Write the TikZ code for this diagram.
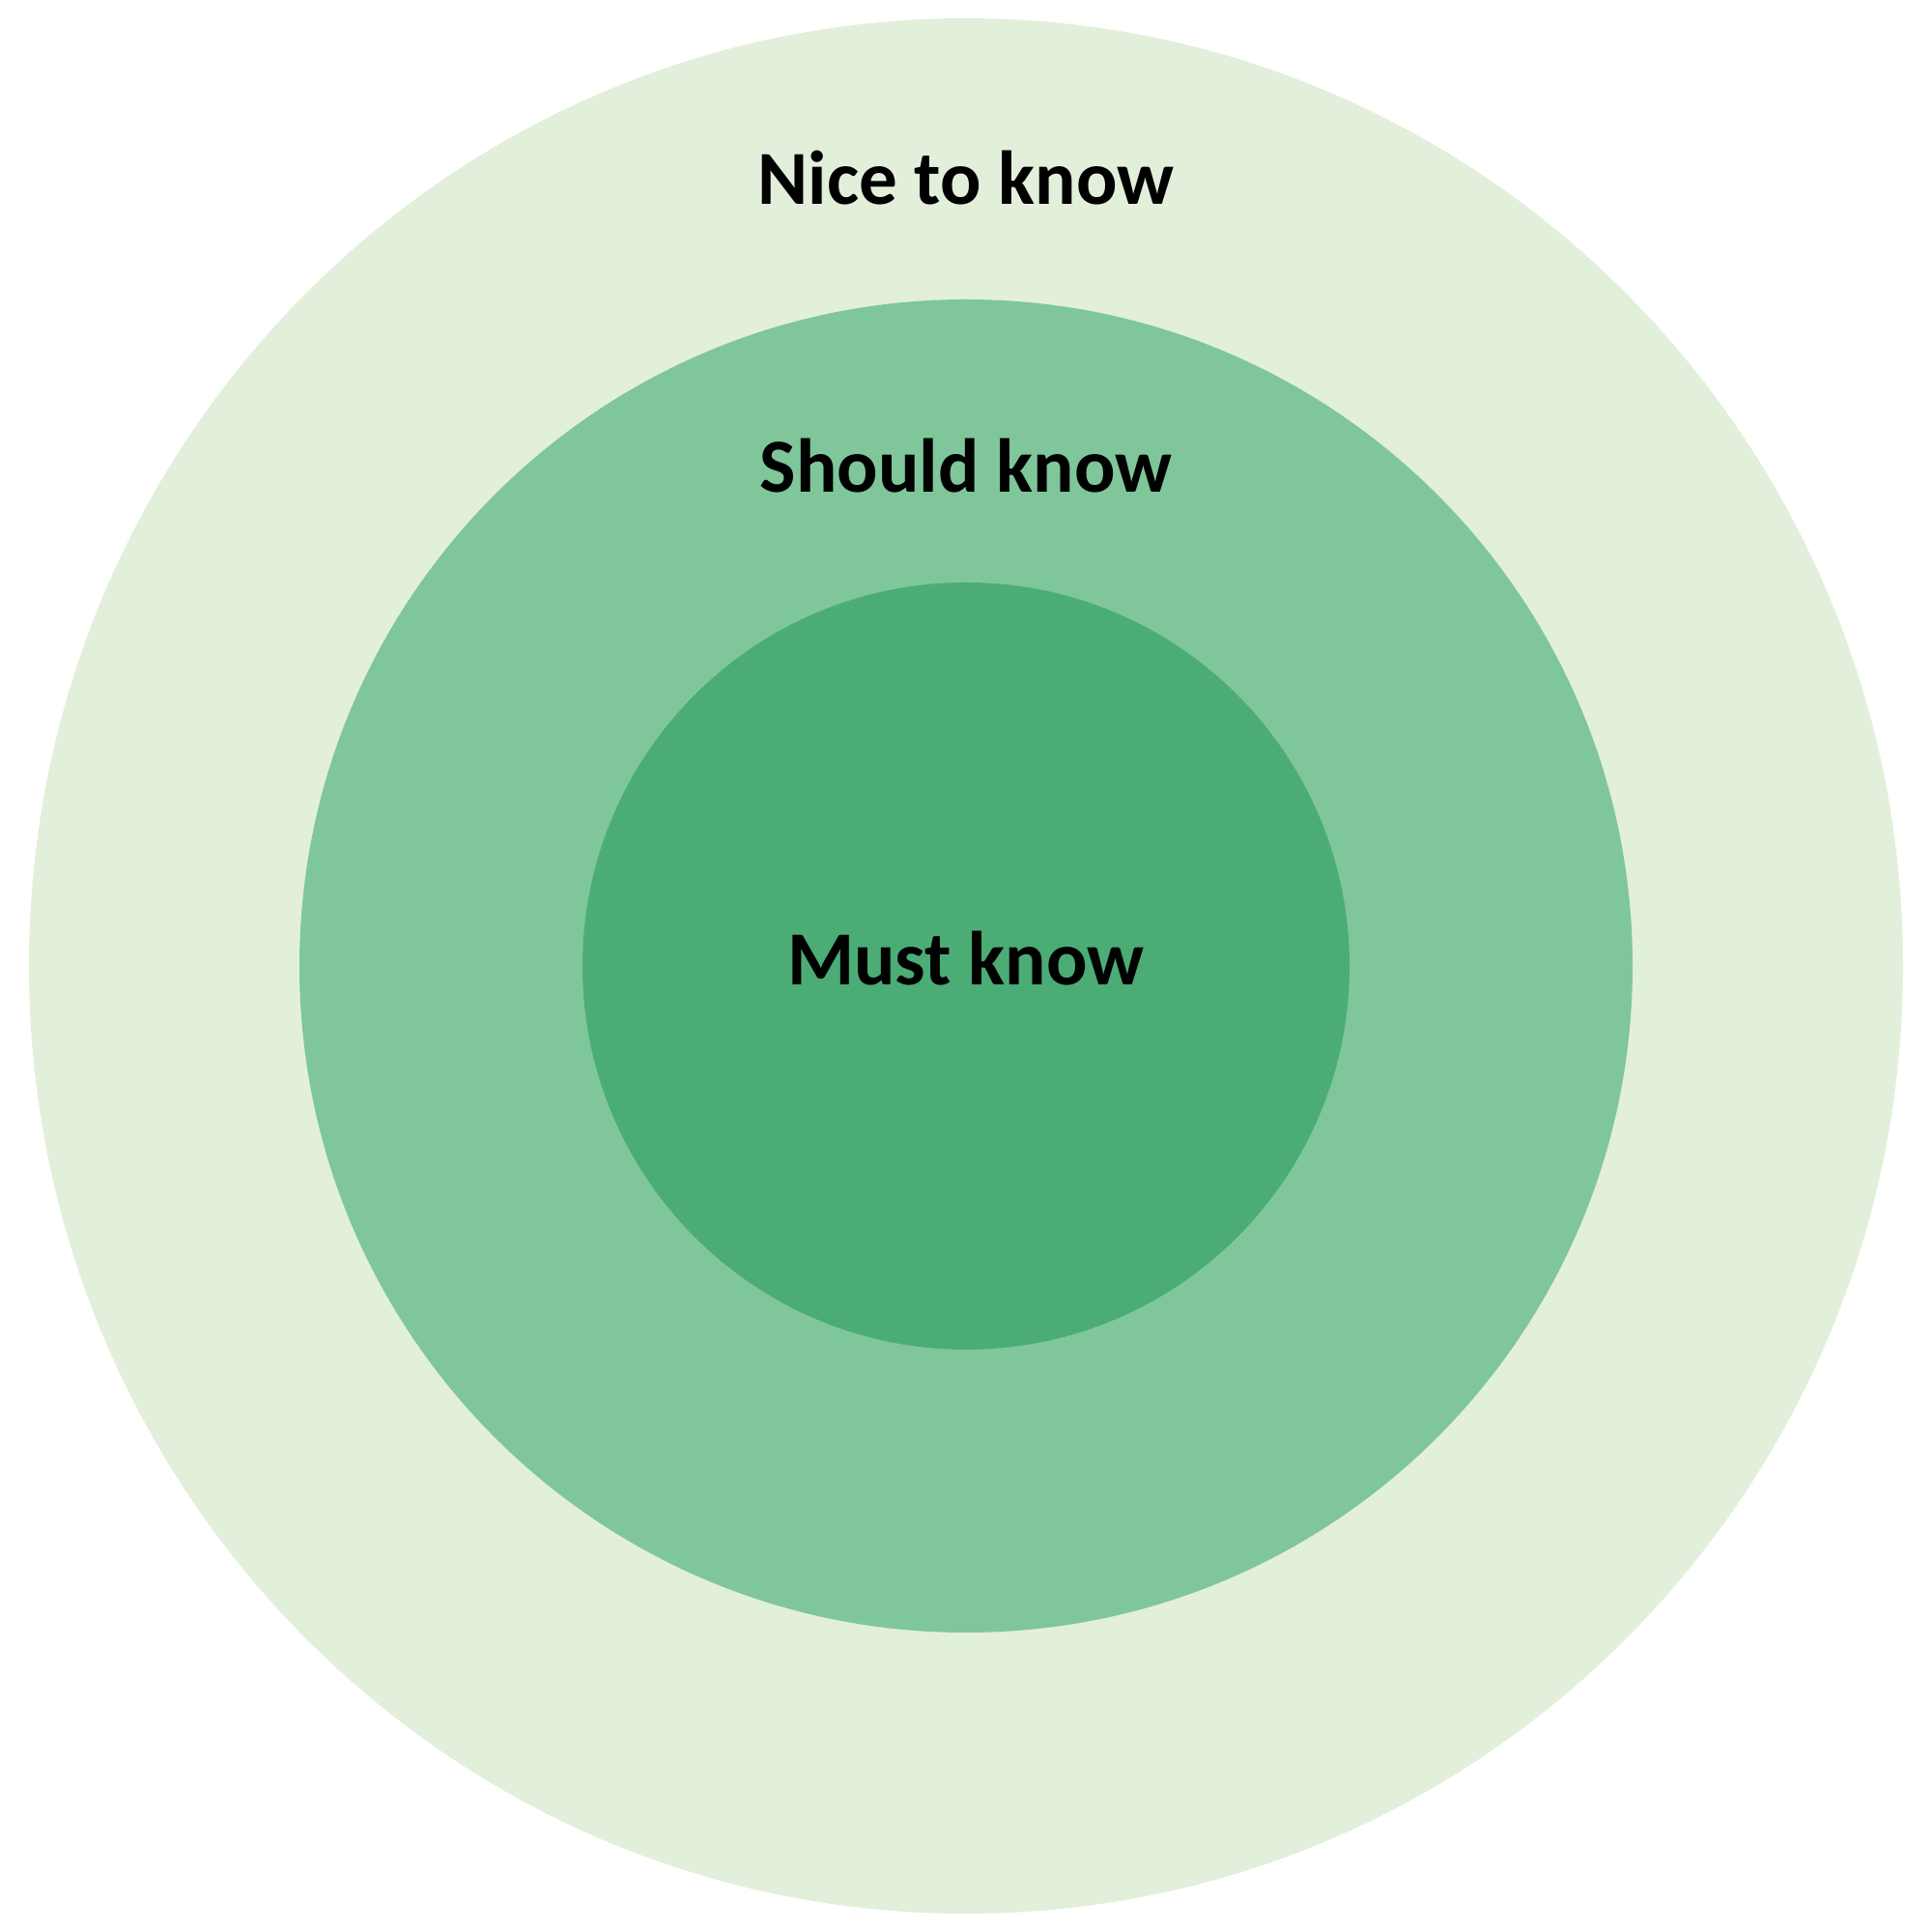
\documentclass[tikz,border=0pt]{standalone}
\usepackage{fontspec}
\setmainfont{Carlito}
\usepackage{tikz}
\usepackage{xcolor}
\usetikzlibrary{positioning}
\definecolor{niceGreen}{RGB}{226,239,218}
\definecolor{shouldGreen}{RGB}{127,198,155}
\definecolor{mustGreen}{RGB}{75,172,118}

\tikzset{
    ringlabel/.style={anchor=base, font=\fontsize{22.5}{27}\selectfont\bfseries, text=black, inner sep=0pt}
}

\begin{document}
\begin{tikzpicture}
    \useasboundingbox (0,0) rectangle (20,20);
    \fill[niceGreen] (10,10) ellipse (9.70 and 9.81);
    \fill[shouldGreen] (10,10) circle (6.90);
    \fill[mustGreen] (10,10) circle (3.97);
    \node[ringlabel] (nice) at (10,17.88) {Nice to know};
    \node[ringlabel] (should) at (10,14.90) {Should know};
    \node[ringlabel] (must) at (10,9.80) {Must know};
\end{tikzpicture}
\end{document}
